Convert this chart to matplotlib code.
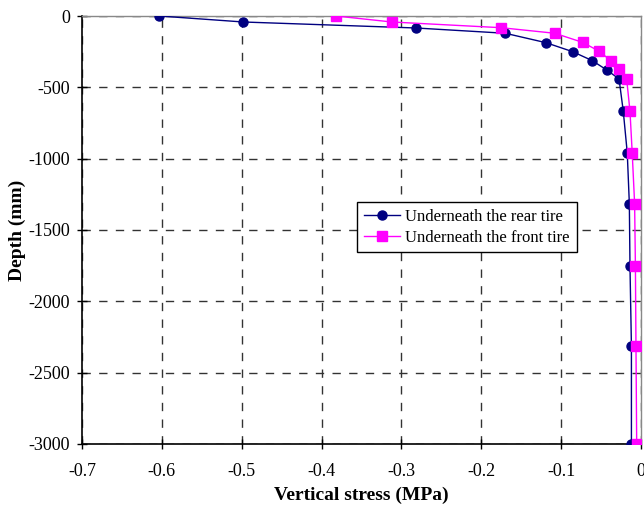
import matplotlib
matplotlib.use("Agg")
import matplotlib.pyplot as plt

depth_rear = [0, -42, -84, -121, -187, -250, -313, -378, -441, -667, -960, -1315, -1755, -2312, -3000]
stress_rear = [-0.603, -0.498, -0.282, -0.170, -0.119, -0.0856, -0.061, -0.043, -0.0275, -0.0222, -0.0172, -0.0146, -0.0138, -0.012, -0.012]
depth_front = [0, -42, -82, -121, -185, -248, -313, -374, -440, -667, -960, -1315, -1755, -2312, -3000]
stress_front = [-0.382, -0.312, -0.175, -0.108, -0.073, -0.052, -0.038, -0.027, -0.018, -0.0138, -0.011, -0.008, -0.007, -0.0063, -0.0054]
xticks = [-0.7, -0.6, -0.5, -0.4, -0.3, -0.2, -0.1, 0]
xticklabels = ["-0.7", "-0.6", "-0.5", "-0.4", "-0.3", "-0.2", "-0.1", "0"]
yticks = [0, -500, -1000, -1500, -2000, -2500, -3000]
yticklabels = ["0", "-500", "-1000", "-1500", "-2000", "-2500", "-3000"]

plt.rcParams['font.family'] = ['Liberation Serif', 'DejaVu Serif']
plt.rcParams['axes.unicode_minus'] = False

fig = plt.figure(figsize=(6.44, 5.09), dpi=100)
ax = fig.add_axes([82/644, 1-444/509, (641-82)/644, (444-16)/509])

ax.plot(stress_rear, depth_rear, color='#000080', lw=1.0, marker='o', ms=6.5,
        label='Underneath the rear tire', zorder=3)
ax.plot(stress_front, depth_front, color='#FF00FF', lw=1.0, marker='s', ms=7,
        label='Underneath the front tire', zorder=3)

ax.set_xlim(-0.7, 0)
ax.set_ylim(-3000, 0)
ax.set_xticks(xticks)
ax.set_xticklabels(xticklabels)
ax.set_yticks(yticks)
ax.set_yticklabels(yticklabels)
ax.tick_params(direction='inout', length=7, width=1, labelsize=13, colors='black')
ax.tick_params(axis='x', pad=10)
ax.tick_params(axis='y', pad=5)
ax.grid(True, color='#333333', linestyle=(0, (6, 6)), lw=1.0)

for s in ['left', 'bottom']:
    ax.spines[s].set_color('black')
    ax.spines[s].set_linewidth(1.2)
for s in ['top', 'right']:
    ax.spines[s].set_color('#888888')
    ax.spines[s].set_linewidth(1.0)

ax.set_xlabel('Vertical stress (MPa)', fontsize=14, fontweight='bold', labelpad=5)
ax.set_ylabel('Depth (mm)', fontsize=14, fontweight='bold', labelpad=2)

leg = ax.legend(loc='upper left', bbox_to_anchor=((357-82)/559, 1-(202-16)/428),
                fontsize=12, frameon=True, fancybox=False, framealpha=1,
                edgecolor='black', handlelength=2.2, borderpad=0.4,
                labelspacing=0.3, handletextpad=0.3, borderaxespad=0)
leg.get_frame().set_linewidth(1.0)

fig.savefig('out.png', dpi=100)
